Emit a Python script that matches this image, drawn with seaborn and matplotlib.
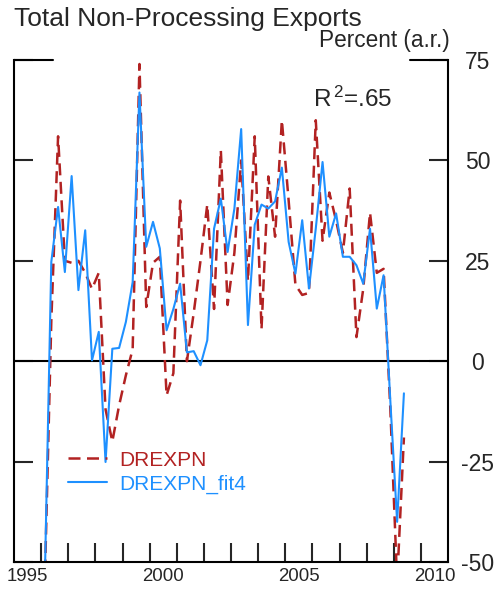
import numpy as np
import pandas as pd
import matplotlib
matplotlib.use("Agg")
import matplotlib.pyplot as plt
import seaborn as sns

# quarterly data, 1996Q1 .. 2009Q2 (percent, annual rate)
start_year = 1996
drexpn = [-58, 10, 56, 25,
          24.5, 25, 22, 18,
          22, -12, -20, -11,
          -3.5, 3, 74, 13.5,
          24.5, 26, -8.5, -3,
          40, 0, 12, 25,
          39, 13, 52.5, 14,
          27, 50, 20, 56,
          8, 46, 31, 60,
          40, 19, 16.5, 17,
          60, 30, 42, 35,
          27, 43, 6, 18,
          37, 22, 23, -12,
          -55, -19]
drexpn_fit4 = [-58, 24.7, 38.4, 22.2,
               46.1, 17.7, 32.6, 0.2,
               7.3, -25.1, 3.1, 3.3,
               9.8, 19.7, 66.9, 28.5,
               34.7, 28.1, 7.7, 13,
               19.3, 2.2, 2.5, -1.0,
               5.2, 33, 40.5, 27.2,
               38, 57.8, 9, 34,
               39, 38, 39.8, 48.2,
               29.7, 21.8, 35.1, 18.1,
               33, 49.6, 31, 36.8,
               26, 26, 23.9, 19.3,
               33, 13.1, 21.4, -10,
               -40, -8]
y_ticks = [-50, -25, 0, 25, 50, 75]
year_labels = ["1995", "2000", "2005", "2010"]

RED = "#B22222"
BLUE = "#1E90FF"

sns.set_style("white")
plt.rcParams["font.family"] = ["Liberation Sans", "DejaVu Sans"]
plt.rcParams["mathtext.default"] = "regular"

# quarter mid-points as decimal years
t = start_year + (np.arange(len(drexpn)) + 0.5) / 4
df = pd.DataFrame({"date": t, "DREXPN": drexpn, "DREXPN_fit4": drexpn_fit4})

fig = plt.figure(figsize=(4.95, 5.89), dpi=100)
ax = fig.add_axes([14 / 495, 27 / 589, 434 / 495, 502 / 589])

sns.lineplot(data=df, x="date", y="DREXPN", ax=ax, color=RED, lw=1.8,
             dashes=False, label="DREXPN")
ax.lines[-1].set_dashes((4.8, 2.6))
sns.lineplot(data=df, x="date", y="DREXPN_fit4", ax=ax, color=BLUE, lw=1.5,
             label="DREXPN_fit4")

ax.axhline(0, color="black", lw=1.5, zorder=1)

ax.set_xlim(1995, 2011)
ax.set_ylim(-50, 75)
ax.set_xlabel("")
ax.set_ylabel("")

for s in ["left", "right", "bottom"]:
    ax.spines[s].set_visible(True)
    ax.spines[s].set_color("black")
    ax.spines[s].set_linewidth(1.5)
ax.spines["top"].set_visible(False)

# short segments at the top corners
ax.axhline(75, xmin=0, xmax=39 / 434, color="black", lw=1.5, clip_on=False)
ax.axhline(75, xmin=1 - 38 / 434, xmax=1, color="black", lw=1.5, clip_on=False)

ax.set_yticks(y_ticks)
ax.set_yticklabels([str(v) for v in y_ticks])
ax.tick_params(axis="y", direction="in", length=13.7, width=1.5, left=True,
               right=True, labelleft=False, labelright=True, labelsize=16.5,
               pad=21.5)
for tk in ax.yaxis.get_major_ticks():
    tk.label2.set_horizontalalignment("center")

ax.set_xticks(range(1996, 2011))
ax.set_xticklabels([])
ax.set_xticks([int(y) + 0.5 for y in year_labels], minor=True)
ax.set_xticklabels(year_labels, minor=True)
ax.tick_params(axis="x", which="major", direction="in", length=13.7,
               width=1.5, bottom=True)
ax.tick_params(axis="x", which="minor", length=0, labelsize=13.4, pad=4)

leg = ax.legend(loc="upper left", bbox_to_anchor=(0.125, 0.222), frameon=False,
                fontsize=15, handlelength=1.85, handletextpad=0.6,
                labelspacing=0.25, borderpad=0, borderaxespad=0,
                labelcolor="linecolor")

ax.text(2006.02, 63.2, r"R$^{\,2}$=.65", fontsize=17.5, va="baseline",
        ha="left")

fig.text(14 / 495, 1 - 26 / 589, "Total Non-Processing Exports",
         fontsize=19, va="baseline", ha="left")
fig.text(450 / 495, 1 - 47 / 589, "Percent (a.r.)", fontsize=16.3,
         va="baseline", ha="right")

fig.savefig("out.png", dpi=100)
